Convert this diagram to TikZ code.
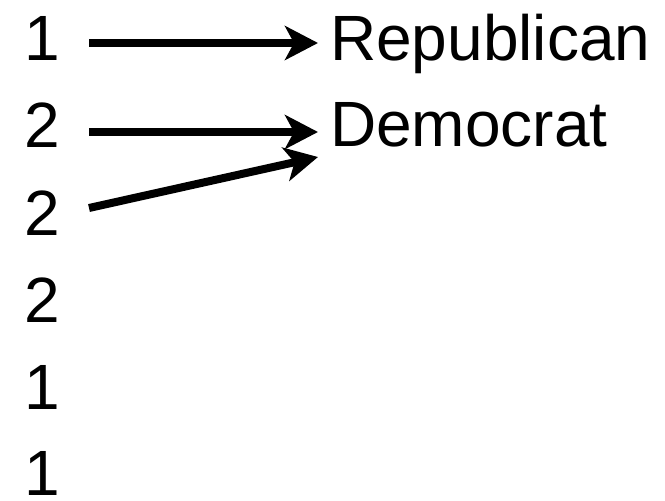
\documentclass[tikz,border=0pt]{standalone}
\usepackage{fontspec}
\setmainfont{Liberation Sans}
\usetikzlibrary{arrows.meta}
\begin{document}
\begin{tikzpicture}[x=1pt,y=-1pt,
  lbl/.style={anchor=base west,inner sep=0pt,font=\fontsize{64}{77}\selectfont},
  conn/.style={line width=8pt,-{Stealth[length=33pt,width=34pt,inset=9pt]}}]
\useasboundingbox (0,0) rectangle (665,501);
\node[lbl] (d1) at (24,60) {1};
\node[lbl] (d2) at (24,147) {2};
\node[lbl] (d3) at (24,235) {2};
\node[lbl] (d4) at (24,322) {2};
\node[lbl] (d5) at (24,409) {1};
\node[lbl] (d6) at (24,495) {1};
\node[lbl] (rep) at (330,60) {Republican};
\node[lbl] (dem) at (330,146) {Democrat};
\coordinate (s1) at (89,43);
\coordinate (e1) at (318,43);
\coordinate (s2) at (89,132);
\coordinate (e2) at (318,132);
\coordinate (s3) at (89,208);
\coordinate (e3) at (318,157);
\draw[conn] (s1) -- (e1);
\draw[conn] (s2) -- (e2);
\draw[conn] (s3) -- (e3);
\end{tikzpicture}
\end{document}
